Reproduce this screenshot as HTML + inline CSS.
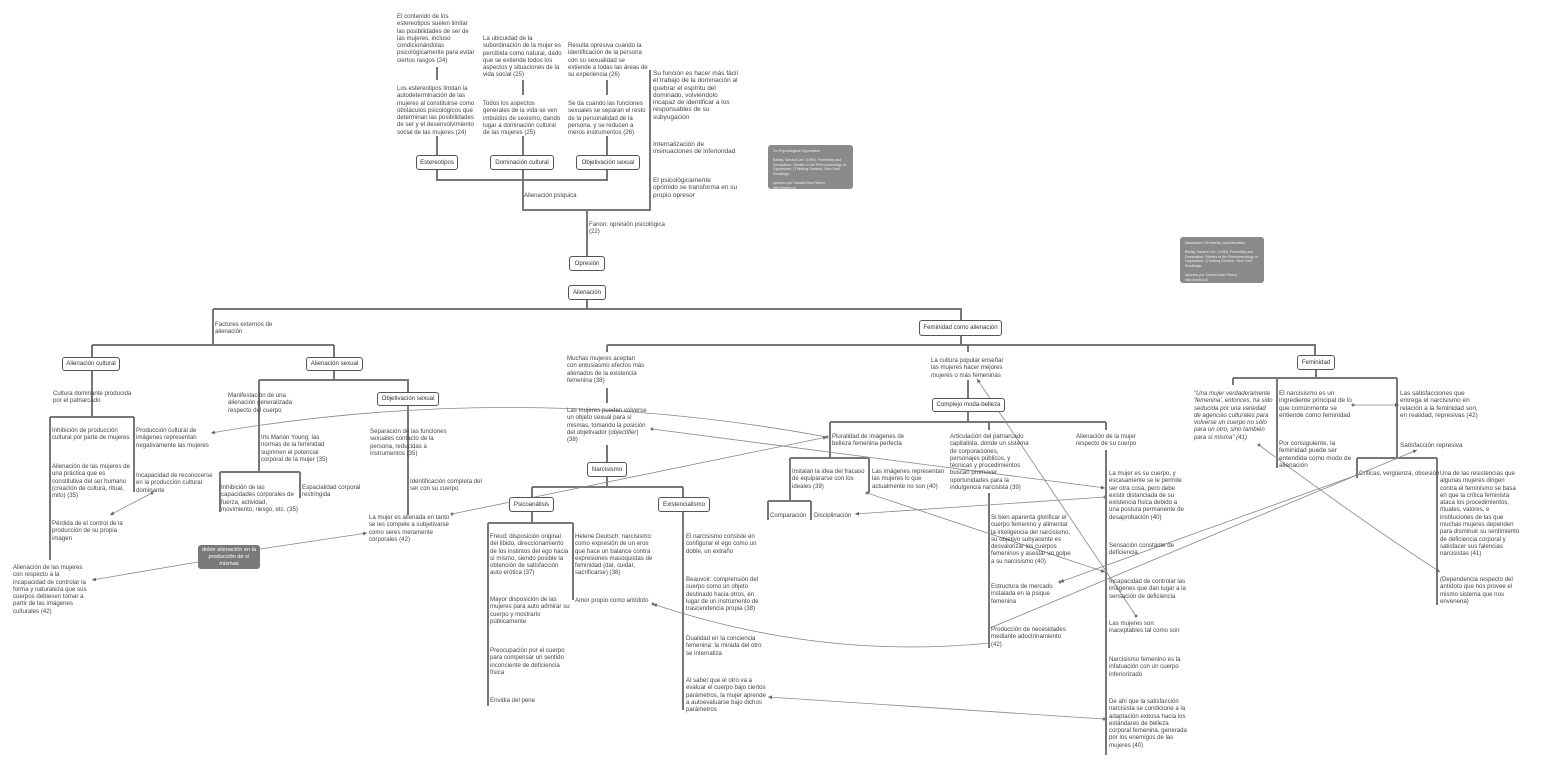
<!DOCTYPE html>
<html><head><meta charset="utf-8">
<style>
html,body{margin:0;padding:0;background:#fff;}
#c{position:relative;width:1544px;height:766px;overflow:hidden;font-family:"Liberation Sans",sans-serif;color:#444;}
.t{position:absolute;font-size:6.1px;line-height:7.3px;white-space:nowrap;}
.b{position:absolute;border:1px solid #555;border-radius:3px;background:#fff;font-size:6.1px;text-align:center;box-sizing:border-box;white-space:nowrap;color:#333;}
.n{position:absolute;background:#8a8a8a;border-radius:3px;color:#eee;font-size:3.6px;line-height:4.6px;padding:4px 5px;box-sizing:border-box;}
svg{position:absolute;left:0;top:0;}
</style></head><body><div id="c">
<svg width="1544" height="766" viewBox="0 0 1544 766">
<defs><marker id="a" markerWidth="6" markerHeight="6" refX="5" refY="3" orient="auto"><path d="M0,0.5 L5,3 L0,5.5 z" fill="#666"/></marker></defs>
<g stroke="#777" stroke-width="2" fill="none">
<!-- top -->
<path d="M437,67V80M437,136V155M523,80V95M523,136V155M607,80V95M607,136V155"/>
<path d="M437,170V180H607V170M523,170V210H650V70M587,210V256"/>
<path d="M587,299V309M213,309H961V320"/>
<path d="M213,309V345M92,345H334M92,345V357M334,345V357"/>
<path d="M92,370V417M50,417H134M50,417V560M134,417V492"/>
<path d="M334,370V380M259,380H408V392M259,380V472M220,472H300M220,472V512M300,472V498M408,406V515"/>
<!-- center -->
<path d="M961,336V345M607,345H1315V355M607,345V352M968,345V352M607,388V403M607,445V463"/>
<path d="M607,477V487M532,487H683M532,487V497M683,487V497"/>
<path d="M532,512V523M488,523H573M488,523V706M573,523V600M683,512V710"/>
<path d="M968,380V398M968,412V422M830,422H1106M830,422V458M989,422V430M1106,422V430M989,493V648M1106,450V755"/>
<path d="M790,458H869M790,458V501M768,501H811M768,501V520M811,501V520M869,458V493"/>
<!-- feminidad -->
<path d="M1316,370V378M1233,378H1397M1233,378V385M1277,378V468M1397,378V458M1357,458H1437M1357,458V478M1437,458V605"/>
</g>
<g stroke="#888" stroke-width="0.8" fill="none">
<path d="M827,437 Q520,380 211,433" marker-end="url(#a)"/>
<path d="M452,514 L827,437" marker-end="url(#a)"/>
<path d="M652,429 L1105,488" marker-end="url(#a)"/>
<path d="M1105,497 L855,514" marker-end="url(#a)"/>
<path d="M867,493 L1105,572" marker-end="url(#a)"/>
<path d="M1136,616 L977,379" marker-end="url(#a)"/>
<path d="M1357,475 L1060,582" marker-end="url(#a)"/>
<path d="M990,628 L1417,450" marker-end="url(#a)"/>
<path d="M990,643 Q820,660 653,604" marker-end="url(#a)"/>
<path d="M1104,719 L768,697" marker-end="url(#a)"/>
<path d="M1259,445 Q1360,520 1440,572" marker-end="url(#a)"/>
<path d="M1353,405 L1399,405" marker-end="url(#a)"/>
<path d="M152,493 L110,515" marker-end="url(#a)"/>
<path d="M198,562 L92,580" marker-end="url(#a)"/>
<path d="M260,549 L367,533" marker-end="url(#a)"/>
</g>
<g fill="#777">
<circle cx="827" cy="437" r="1.5"/><circle cx="452" cy="514" r="1.5"/><circle cx="652" cy="429" r="1.5"/>
<circle cx="1105" cy="497" r="1.5"/><circle cx="867" cy="493" r="1.5"/><circle cx="1136" cy="616" r="1.5"/>
<circle cx="1357" cy="475" r="1.5"/><circle cx="1104" cy="719" r="1.5"/><circle cx="1259" cy="445" r="1.5"/>
<circle cx="1353" cy="405" r="1.5"/><circle cx="152" cy="493" r="1.5"/><circle cx="653" cy="604" r="1.5"/><circle cx="1060" cy="582" r="1.5"/>
</g>
</svg>

<!-- top texts -->
<div class="t" style="left:397px;top:13px">El contenido de los<br>estereotipos suelen limitar<br>las posibilidades de ser de<br>las mujeres, incluso<br>condicionándolas<br>psicológicamente para evitar<br>ciertos rasgos (24)</div>
<div class="t" style="left:397px;top:85px">Los estereotipos limitan la<br>autodeterminación de las<br>mujeres al constituirse como<br>obstáculos psicológicos que<br>determinan las posibilidades<br>de ser y el desenvolvimiento<br>social de las mujeres (24)</div>
<div class="t" style="left:483px;top:35px">La ubicuidad de la<br>subordinación de la mujer es<br>percibida como natural, dado<br>que se extiende todos los<br>aspectos y situaciones de la<br>vida social (25)</div>
<div class="t" style="left:483px;top:100px">Todos los aspectos<br>generales de la vida se ven<br>imbuidos de sexismo, dando<br>lugar a dominación cultural<br>de las mujeres (25)</div>
<div class="t" style="left:568px;top:42px">Resulta opresiva cuando la<br>identificación de la persona<br>con su sexualidad se<br>extiende a todas las áreas de<br>su experiencia (26)</div>
<div class="t" style="left:568px;top:100px">Se da cuando las funciones<br>sexuales se separan el resto<br>de la personalidad de la<br>persona, y se reducen a<br>meros instrumentos (26)</div>
<div class="t" style="left:653px;top:70px;font-size:6.5px">Su función es hacer más fácil<br>el trabajo de la dominación al<br>quebrar el espíritu del<br>dominado, volviéndolo<br>incapaz de identificar a los<br>responsables de su<br>subyugación</div>
<div class="t" style="left:653px;top:141px;font-size:6.5px">Internalización de<br>insinuaciones de inferioridad</div>
<div class="t" style="left:653px;top:177px;font-size:6.5px">El psicológicamente<br>oprimido se transforma en su<br>propio opresor</div>
<div class="b" style="left:416px;top:155px;width:42px;height:15px;line-height:13px">Estereotipos</div>
<div class="b" style="left:490px;top:155px;width:64px;height:15px;line-height:13px">Dominación cultural</div>
<div class="b" style="left:576px;top:155px;width:64px;height:15px;line-height:13px">Objetivación sexual</div>
<div class="t" style="left:524px;top:192px">Alienación psíquica</div>
<div class="t" style="left:589px;top:221px">Fanon: opresión psicológica<br>(22)</div>
<div class="b" style="left:569px;top:256px;width:36px;height:15px;line-height:13px">Opresión</div>
<div class="b" style="left:568px;top:285px;width:38px;height:15px;line-height:13px">Alienación</div>
<div class="n" style="left:768px;top:145px;width:85px;height:44px">On Psychological Oppression<br><br>Bartky, Sandra Lee. (1990). Femininity and Domination: Studies in the Phenomenology of Oppression. (Thinking Gender). New York: Routledge.<br><br>Apuntes por Sandra Díaz Rivera<br>http://bartky.cl/</div>
<div class="n" style="left:1180px;top:237px;width:84px;height:46px">Narcissism, Femininity, and Alienation<br><br>Bartky, Sandra Lee. (1990). Femininity and Domination: Studies in the Phenomenology of Oppression. (Thinking Gender). New York: Routledge.<br><br>Apuntes por Sandra Díaz Rivera<br>http://bartky.cl/</div>

<!-- left -->
<div class="t" style="left:215px;top:321px">Factores externos de<br>alienación</div>
<div class="b" style="left:62px;top:357px;width:58px;height:14px;line-height:12px">Alienación cultural</div>
<div class="b" style="left:306px;top:357px;width:57px;height:14px;line-height:12px">Alienación sexual</div>
<div class="t" style="left:53px;top:390px">Cultura dominante producida<br>por el patriarcado</div>
<div class="t" style="left:52px;top:427px">Inhibición de producción<br>cultural por parte de mujeres</div>
<div class="t" style="left:52px;top:463px">Alienación de las mujeres de<br>una práctica que es<br>constitutiva del ser humano<br>(creación de cultura, ritual,<br>mito) (35)</div>
<div class="t" style="left:52px;top:520px">Pérdida de el control de la<br>producción de su propia<br>imagen</div>
<div class="t" style="left:13px;top:564px">Alienación de las mujeres<br>con respecto a la<br>incapacidad de controlar la<br>forma y naturaleza que sus<br>cuerpos debiesen tomar a<br>partir de las imágenes<br>culturales (42)</div>
<div class="t" style="left:136px;top:427px">Producción cultural de<br>imágenes representan<br>negativamente las mujeres</div>
<div class="t" style="left:136px;top:472px">Incapacidad de reconocerse<br>en la producción cultural<br>dominante</div>
<div class="n" style="left:198px;top:545px;width:62px;height:24px;font-size:5.6px;line-height:7px;text-align:center;padding:2px 3px;color:#fff;background:#7a7a7a">doble alienación en la producción de sí mismas</div>
<div class="t" style="left:228px;top:392px">Manifestación de una<br>alienación generalizada<br>respecto del cuerpo</div>
<div class="t" style="left:261px;top:434px">Iris Marion Young: las<br>normas de la feminidad<br>suprimen el potencial<br>corporal de la mujer (35)</div>
<div class="t" style="left:221px;top:484px">Inhibición de las<br>capacidades corporales de<br>fuerza, actividad,<br>movimiento, riesgo, etc. (35)</div>
<div class="t" style="left:302px;top:484px">Espacialidad corporal<br>restringida</div>
<div class="b" style="left:377px;top:392px;width:62px;height:14px;line-height:12px">Objetivación sexual</div>
<div class="t" style="left:370px;top:428px">Separación de las funciones<br>sexuales contacto de la<br>persona, reducidas a<br>instrumentos (35)</div>
<div class="t" style="left:410px;top:478px">Identificación completa del<br>ser con su cuerpo</div>
<div class="t" style="left:369px;top:514px">La mujer es alienada en tanto<br>se les compele a subjetivarse<br>como seres meramente<br>corporales (42)</div>

<!-- center -->
<div class="b" style="left:919px;top:320px;width:83px;height:16px;line-height:14px">Feminidad como alienación</div>
<div class="t" style="left:567px;top:355px">Muchas mujeres aceptan<br>con entusiasmo efectos más<br>alienados de la existencia<br>femenina (38)</div>
<div class="t" style="left:567px;top:407px">Las mujeres pueden volverse<br>un objeto sexual para sí<br>mismas, tomando la posición<br>del objetivador (<i>objectifier</i>)<br>(38)</div>
<div class="b" style="left:587px;top:462px;width:40px;height:15px;line-height:13px">Narcisismo</div>
<div class="b" style="left:509px;top:497px;width:45px;height:15px;line-height:13px">Psicoanálisis</div>
<div class="b" style="left:658px;top:497px;width:52px;height:15px;line-height:13px">Existencialismo</div>
<div class="t" style="left:490px;top:533px">Freud: disposición original<br>del libido, direccionamiento<br>de los instintos del ego hacia<br>sí mismo, siendo posible la<br>obtención de satisfacción<br>auto erótica (37)</div>
<div class="t" style="left:490px;top:596px">Mayor disposición de las<br>mujeres para auto admirar su<br>cuerpo y mostrarlo<br>públicamente</div>
<div class="t" style="left:490px;top:647px">Preocupación por el cuerpo<br>para compensar un sentido<br>inconciente de deficiencia<br>física</div>
<div class="t" style="left:490px;top:697px">Envidia del pene</div>
<div class="t" style="left:575px;top:533px">Helene Deutsch: narcisismo<br>como expresión de un eros<br>que hace un balance contra<br>expresiones masoquistas de<br>feminidad (dar, cuidar,<br>sacrificarse) (38)</div>
<div class="t" style="left:575px;top:597px">Amor propio como antídoto</div>
<div class="t" style="left:686px;top:533px">El narcisismo consiste en<br>configurar el ego como un<br>doble, un extraño</div>
<div class="t" style="left:686px;top:576px">Beauvoir: comprensión del<br>cuerpo como un objeto<br>destinado hacia otros, en<br>lugar de un instrumento de<br>trascendencia propia (38)</div>
<div class="t" style="left:686px;top:635px">Dualidad en la conciencia<br>femenina: la mirada del otro<br>se internaliza</div>
<div class="t" style="left:686px;top:677px">Al saber que el otro va a<br>evaluar el cuerpo bajo ciertos<br>parámetros, la mujer aprende<br>a autoevaluarse bajo dichos<br>parámetros</div>

<div class="t" style="left:931px;top:357px">La cultura popular enseñar<br>las mujeres hacer mejores<br>mujeres o más femeninas</div>
<div class="b" style="left:932px;top:398px;width:73px;height:14px;line-height:12px">Complejo moda-belleza</div>
<div class="t" style="left:832px;top:433px">Pluralidad de imágenes de<br>belleza femenina perfecta</div>
<div class="t" style="left:792px;top:468px">Instalan la idea del fracaso<br>de equipararse con los<br>ideales (39)</div>
<div class="t" style="left:872px;top:468px">Las imágenes representan<br>las mujeres lo que<br>actualmente no son (40)</div>
<div class="t" style="left:770px;top:512px">Comparación</div>
<div class="t" style="left:814px;top:512px">Disciplinación</div>
<div class="t" style="left:950px;top:433px">Articulación del patriarcado<br>capitalista, donde un sistema<br>de corporaciones,<br>personajes públicos, y<br>técnicas y procedimientos<br>buscan promover<br>oportunidades para la<br>indulgencia narcisista (39)</div>
<div class="t" style="left:991px;top:514px">Si bien aparenta glorificar el<br>cuerpo femenino y alimentar<br>la inteligencia del narcisismo,<br>su objetivo subyacente es<br>desvalorizar los cuerpos<br>femeninos y asestar un golpe<br>a su narcisismo (40)</div>
<div class="t" style="left:991px;top:583px">Estructura de mercado<br>instalada en la psique<br>femenina</div>
<div class="t" style="left:991px;top:626px">Producción de necesidades<br>mediante adoctrinamiento<br>(42)</div>
<div class="t" style="left:1076px;top:433px">Alienación de la mujer<br>respecto de su cuerpo</div>
<div class="t" style="left:1109px;top:470px">La mujer es su cuerpo, y<br>escasamente se le permite<br>ser otra cosa, pero debe<br>existir distanciada de su<br>existencia física debido a<br>una postura permanente de<br>desaprobación (40)</div>
<div class="t" style="left:1109px;top:542px">Sensación constante de<br>deficiencia</div>
<div class="t" style="left:1109px;top:578px">Incapacidad de controlar las<br>imágenes que dan lugar a la<br>sensación de deficiencia</div>
<div class="t" style="left:1109px;top:620px">Las mujeres son<br>inaceptables tal como son</div>
<div class="t" style="left:1109px;top:656px">Narcisismo femenino es la<br>infatuación con un cuerpo<br>inferiorizado</div>
<div class="t" style="left:1109px;top:698px">De ahí que la satisfacción<br>narcisista se condicione a la<br>adaptación exitosa hacia los<br>estándares de belleza<br>corporal femenina, generada<br>por los enemigos de las<br>mujeres (40)</div>

<!-- right -->
<div class="b" style="left:1297px;top:355px;width:38px;height:15px;line-height:13px">Feminidad</div>
<div class="t" style="left:1194px;top:390px;font-style:italic">"Una mujer verdaderamente<br>'femenina', entonces, ha sido<br>seducida por una variedad<br>de agencias culturales para<br>volverse un cuerpo no sólo<br>para un otro, sino también<br>para sí misma" (41)</div>
<div class="t" style="left:1279px;top:390px;font-size:6.4px">El narcisismo es un<br>ingrediente principal de lo<br>que comúnmente se<br>entiende como feminidad</div>
<div class="t" style="left:1279px;top:440px;font-size:6.4px">Por consiguiente, la<br>feminidad puede ser<br>entendida como modo de<br>alienación</div>
<div class="t" style="left:1400px;top:390px;font-size:6.4px">Las satisfacciones que<br>entrega el narcisismo en<br>relación a la feminidad son,<br>en realidad, represivas (42)</div>
<div class="t" style="left:1400px;top:442px;font-size:6.4px">Satisfacción represiva</div>
<div class="t" style="left:1359px;top:470px">Críticas, vergüenza, obsesión</div>
<div class="t" style="left:1440px;top:470px">Una de las resistencias que<br>algunas mujeres dirigen<br>contra el feminismo se basa<br>en que la crítica feminista<br>ataca los procedimientos,<br>rituales, valores, e<br>instituciones de las que<br>muchas mujeres dependen<br>para disminuir su sentimiento<br>de deficiencia corporal y<br>satisfacer sus falencias<br>narcisistas (41)</div>
<div class="t" style="left:1440px;top:576px">(Dependencia respecto del<br>antídoto que nos provee el<br>mismo sistema que nos<br>envenena)</div>
</div></body></html>
